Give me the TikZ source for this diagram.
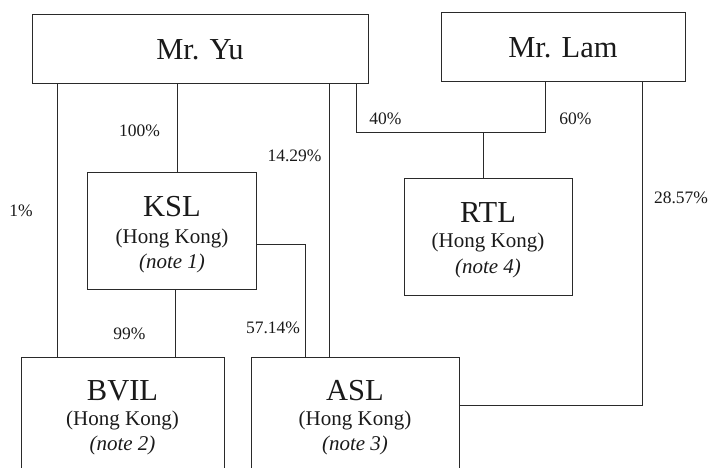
\documentclass[tikz,border=0pt]{standalone}
\usepackage{fontspec}
\setmainfont{Liberation Serif}
\begin{document}
\begin{tikzpicture}[x=1pt,y=-1pt,
  box/.style={draw=lc,line width=1pt,rectangle,inner sep=0pt},
  ttl/.style={anchor=base,inner sep=0pt,text=tc,font=\fontsize{30.5}{32}\selectfont},
  sub/.style={anchor=base,inner sep=0pt,text=tc,font=\fontsize{21}{24}\selectfont},
  pct/.style={anchor=base,inner sep=0pt,text=tc,font=\fontsize{17.5}{20}\selectfont},
  conn/.style={draw=lc,line width=1pt}]
\definecolor{lc}{HTML}{2A2A2A}
\definecolor{tc}{HTML}{1A1A1A}
\useasboundingbox (0,0) rectangle (710,467);
% boxes
\node[box,minimum width=336,minimum height=69] (yu) at (200,48.5) {};
\node[box,minimum width=244,minimum height=69] (lam) at (563,47) {};
\node[box,minimum width=169,minimum height=117] (ksl) at (171.5,230.5) {};
\node[box,minimum width=168,minimum height=117] (rtl) at (488,236.5) {};
\node[box,minimum width=203,minimum height=120] (bvil) at (122.5,417) {};
\node[box,minimum width=208,minimum height=120] (asl) at (355,417) {};
% texts
\node[ttl] (tyu) at (200,59.3) {Mr. Yu};
\node[ttl] (tlam) at (563,57.3) {Mr. Lam};
\node[ttl] (tksl) at (172,216) {KSL};
\node[sub] (hksl) at (172,243) {(Hong Kong)};
\node[sub] (nksl) at (172,268) {\itshape (note 1)};
\node[ttl] (trtl) at (488,222) {RTL};
\node[sub] (hrtl) at (488,247) {(Hong Kong)};
\node[sub] (nrtl) at (488,273) {\itshape (note 4)};
\node[ttl] (tbvil) at (122.5,400) {BVIL};
\node[sub] (hbvil) at (122.5,425) {(Hong Kong)};
\node[sub] (nbvil) at (122.5,450) {\itshape (note 2)};
\node[ttl] (tasl) at (355,400) {ASL};
\node[sub] (hasl) at (355,425) {(Hong Kong)};
\node[sub] (nasl) at (355,450) {\itshape (note 3)};
% connector coordinates
\coordinate (x1) at (57.7,0);
\coordinate (x2) at (177,0);
\coordinate (x3) at (329,0);
\coordinate (x4) at (175,0);
\coordinate (j1) at (356,132);
\coordinate (j2) at (545,132);
\coordinate (j3) at (483,132);
\coordinate (k1) at (642,405.7);
\coordinate (m1) at (305,244);
% connectors
\draw[conn] (x1 |- yu.south) -- (x1 |- bvil.north);
\draw[conn] (x2 |- yu.south) -- (x2 |- ksl.north);
\draw[conn] (x3 |- yu.south) -- (x3 |- asl.north);
\draw[conn] (j1 |- yu.south) -- (j1) -- (j2) -- (j2 |- lam.south);
\draw[conn] (j3) -- (j3 |- rtl.north);
\draw[conn] (k1 |- lam.south) -- (k1) -- (k1 -| asl.east);
\draw[conn] (m1 -| ksl.east) -- (m1) -- (m1 |- asl.north);
\draw[conn] (x4 |- ksl.south) -- (x4 |- bvil.north);
% percentages
\node[pct] (p1) at (21,216) {1\%};
\node[pct] (p100) at (139.5,136.5) {100\%};
\node[pct] (p1429) at (294.5,161) {14.29\%};
\node[pct] (p40) at (385.5,124.5) {40\%};
\node[pct] (p60) at (575.5,124.5) {60\%};
\node[pct] (p2857) at (681,203.5) {28.57\%};
\node[pct] (p5714) at (273,333) {57.14\%};
\node[pct] (p99) at (129.5,339) {99\%};
\end{tikzpicture}
\end{document}
